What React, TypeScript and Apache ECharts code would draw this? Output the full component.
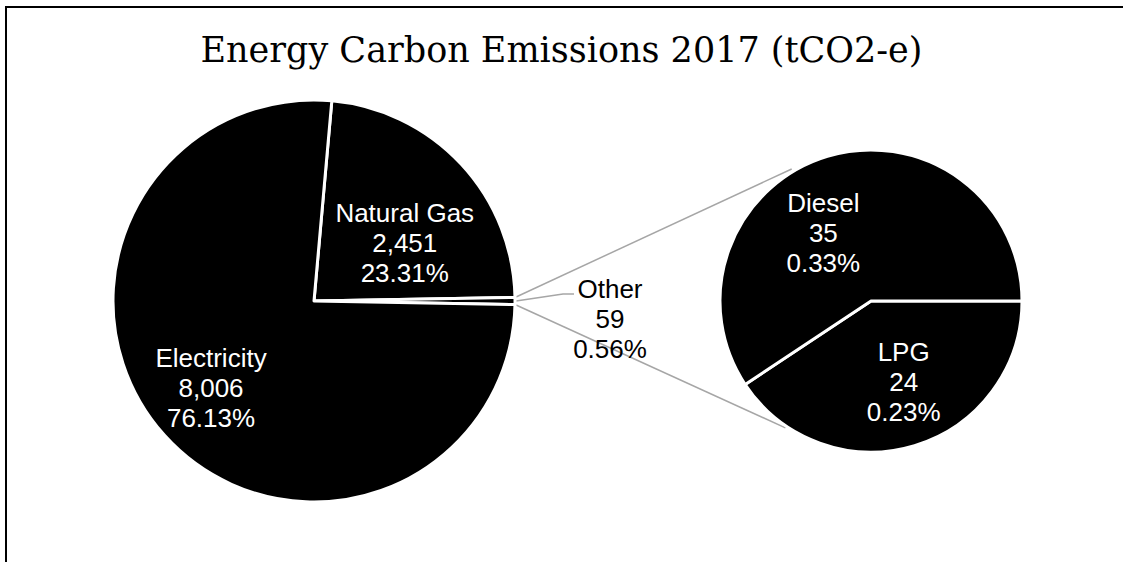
import React, { useEffect, useRef } from 'react';
import * as echarts from 'echarts';

// Emissions by energy source (tCO2-e)
const TITLE = 'Energy Carbon Emissions 2017 (tCO2-e)';
const MAIN_CATEGORIES = ['Natural Gas', 'Electricity'];
const MAIN_VALUES = [2451, 8006];
// Small sources grouped as "Other" and broken out in the secondary pie
const OTHER_NAME = 'Other';
const OTHER_CATEGORIES = ['LPG', 'Diesel'];
const OTHER_VALUES = [24, 35];

const W = 1123;
const H = 562;
const MAIN = { cx: 314, cy: 301, r: 201 };
const SUB = { cx: 871, cy: 301, r: 151 };
const FONT = '"Liberation Sans", Arial, sans-serif';

const otherTotal = OTHER_VALUES.reduce((a, b) => a + b, 0);
const grandTotal = MAIN_VALUES.reduce((a, b) => a + b, 0) + otherTotal;

// Pixel nudges that move inside labels off the slice mid-radius
const LABEL_SHIFT: Record<string, [number, number]> = {
  'Natural Gas': [15, 13],
  Electricity: [-26, 18],
  LPG: [10, 6],
  Diesel: [-25, 7],
};

const polar = (c: { cx: number; cy: number }, r: number, deg: number): [number, number] => {
  const a = (deg * Math.PI) / 180;
  return [c.cx + r * Math.cos(a), c.cy - r * Math.sin(a)];
};

const fmt = (name: string, value: number) =>
  `${name}\n${value.toLocaleString('en-US')}\n${((value / grandTotal) * 100).toFixed(2)}%`;

export default function App() {
  const ref = useRef<HTMLDivElement>(null);

  useEffect(() => {
    if (!ref.current) return;
    const chart = echarts.init(ref.current, undefined, { renderer: 'svg' });

    // Main pie: Natural Gas, Other, Electricity — "Other" centred on 3 o'clock
    const mainData = [
      { name: MAIN_CATEGORIES[0], value: MAIN_VALUES[0] },
      { name: OTHER_NAME, value: otherTotal },
      { name: MAIN_CATEGORIES[1], value: MAIN_VALUES[1] },
    ];
    const mainStart = ((MAIN_VALUES[0] + otherTotal / 2) / grandTotal) * 360;
    const otherHalf = ((otherTotal / 2) / grandTotal) * 360;

    const subData = OTHER_CATEGORIES.map((name, i) => ({ name, value: OTHER_VALUES[i] }));

    // Connector lines from the "Other" slice to the secondary pie
    const linkTop0 = polar(MAIN, MAIN.r, otherHalf);
    const linkBot0 = polar(MAIN, MAIN.r, -otherHalf);
    const linkTop1 = polar(SUB, SUB.r + 3, 121);
    const linkBot1 = polar(SUB, SUB.r + 2, 236);

    const otherEdge = polar(MAIN, MAIN.r, 0);
    const otherLabelX = MAIN.cx + MAIN.r + 95;
    const otherLabelY = MAIN.cy + 18;

    const insideLabel = {
      show: true,
      position: 'inside',
      color: '#ffffff',
      fontFamily: FONT,
      fontSize: 26,
      lineHeight: 30,
      formatter: (p: any) => fmt(p.name, p.value),
    };

    const shiftLayout = (names: string[]) => (p: any) => {
      const name = names[p.dataIndex];
      const s = LABEL_SHIFT[name];
      return s ? { dx: s[0], dy: s[1] } : {};
    };

    const mainNames = mainData.map((d) => d.name);

    chart.setOption({
      animation: false,
      backgroundColor: '#ffffff',
      title: {
        text: TITLE,
        left: 'center',
        top: 27,
        textStyle: {
          fontFamily: '"DejaVu Serif", serif',
          fontSize: 35,
          fontWeight: 'normal',
          color: '#000000',
        },
      },
      graphic: [
        {
          type: 'rect',
          shape: { x: 6, y: 7, width: W + 200, height: H + 200 },
          style: { fill: 'none', stroke: '#000000', lineWidth: 2 },
          silent: true,
        },
        {
          type: 'line',
          shape: { x1: linkTop0[0], y1: linkTop0[1], x2: linkTop1[0], y2: linkTop1[1] },
          style: { stroke: '#a6a6a6', lineWidth: 1.5 },
          silent: true,
        },
        {
          type: 'line',
          shape: { x1: linkBot0[0], y1: linkBot0[1], x2: linkBot1[0], y2: linkBot1[1] },
          style: { stroke: '#a6a6a6', lineWidth: 1.5 },
          silent: true,
        },
      ],
      series: [
        {
          type: 'pie',
          silent: true,
          center: [MAIN.cx, MAIN.cy],
          radius: [0, MAIN.r],
          startAngle: mainStart,
          clockwise: true,
          avoidLabelOverlap: false,
          itemStyle: { color: '#000000', borderColor: '#ffffff', borderWidth: 3 },
          label: insideLabel,
          labelLine: { show: false },
          data: mainData.map((d) =>
            d.name === OTHER_NAME
              ? {
                  ...d,
                  label: { position: 'outside', color: '#000000' },
                  labelLine: { show: true, lineStyle: { color: '#a6a6a6', width: 1.5 } },
                }
              : d
          ),
          labelLayout: (p: any) => {
            if (mainNames[p.dataIndex] === OTHER_NAME) {
              return {
                x: otherLabelX,
                y: otherLabelY,
                align: 'center',
                verticalAlign: 'middle',
                labelLinePoints: [
                  [otherEdge[0] + 1, otherEdge[1]],
                  [otherEdge[0] + 48, otherEdge[1] - 7],
                  [otherEdge[0] + 59, otherEdge[1] - 7],
                ],
              };
            }
            return shiftLayout(mainNames)(p);
          },
        },
        {
          type: 'pie',
          silent: true,
          center: [SUB.cx, SUB.cy],
          radius: [0, SUB.r],
          startAngle: 0,
          clockwise: true,
          avoidLabelOverlap: false,
          itemStyle: { color: '#000000', borderColor: '#ffffff', borderWidth: 3 },
          label: insideLabel,
          labelLine: { show: false },
          data: subData,
          labelLayout: shiftLayout(OTHER_CATEGORIES),
        },
      ],
    });

    return () => chart.dispose();
  }, []);

  return (
    <div
      ref={ref}
      style={{ position: 'fixed', left: 0, top: 0, width: W, height: H, background: '#ffffff' }}
    />
  );
}
